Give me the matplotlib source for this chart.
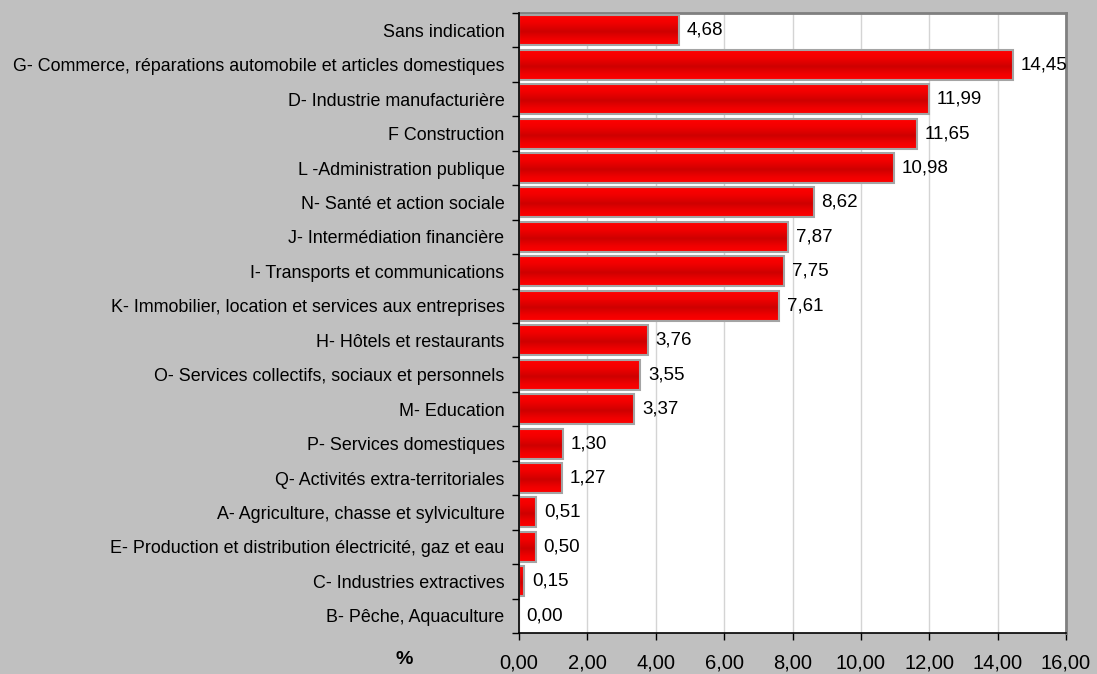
import matplotlib
matplotlib.use("Agg")
import matplotlib.pyplot as plt
import numpy as np
from matplotlib.colors import LinearSegmentedColormap

plt.rcParams['font.family'] = ['Liberation Sans', 'DejaVu Sans']

categories = [
    "Sans indication",
    "G- Commerce, réparations automobile et articles domestiques",
    "D- Industrie manufacturière",
    "F Construction",
    "L -Administration publique",
    "N- Santé et action sociale",
    "J- Intermédiation financière",
    "I- Transports et communications",
    "K- Immobilier, location et services aux entreprises",
    "H- Hôtels et restaurants",
    "O- Services collectifs, sociaux et personnels",
    "M- Education",
    "P- Services domestiques",
    "Q- Activités extra-territoriales",
    "A- Agriculture, chasse et sylviculture",
    "E- Production et distribution électricité, gaz et eau",
    "C- Industries extractives",
    "B- Pêche, Aquaculture",
]
values = [4.68, 14.45, 11.99, 11.65, 10.98, 8.62, 7.87, 7.75, 7.61,
          3.76, 3.55, 3.37, 1.30, 1.27, 0.51, 0.50, 0.15, 0.00]
xticks = [0, 2, 4, 6, 8, 10, 12, 14, 16]

BG = '#C0C0C0'
fig = plt.figure(figsize=(10.97, 6.74), dpi=100, facecolor=BG)
ax = fig.add_axes([519/1097, 1-633/674, (1066-519)/1097, (633-13)/674])
ax.set_facecolor('white')

ypos = np.arange(len(categories))
h = 0.87
cmap = LinearSegmentedColormap.from_list('redgrad', [(0, '#FF0000'), (0.25, '#F20000'),
                                                     (0.55, '#CE0000'), (0.8, '#F00000'), (1, '#FF0000')])
grad = np.linspace(0, 1, 64).reshape(-1, 1)

for y, v in zip(ypos, values):
    if v > 0:
        ax.imshow(grad, extent=[0, v, y + h/2, y - h/2], aspect='auto', cmap=cmap,
                  origin='upper', zorder=2, interpolation='bilinear')
bars = ax.barh(ypos, values, height=h, color='none', edgecolor='#A4A4A4', linewidth=1.5, zorder=3)
for b, v in zip(bars, values):
    if v == 0:
        b.set_visible(False)

for y, v in zip(ypos, values):
    ax.annotate(f"{v:.2f}".replace('.', ','), xy=(v, y), xytext=(5.5, 0), textcoords='offset points',
                ha='left', va='center', fontsize=13.5, color='black', zorder=5, annotation_clip=False)

ax.set_xlim(0, 16)
ax.set_ylim(len(categories) - 0.5, -0.5)
ax.set_xticks(xticks)
ax.set_xticklabels([f"{t:.2f}".replace('.', ',') for t in xticks], fontsize=14.5)
ax.tick_params(axis='x', length=5, width=1, pad=9.5, direction='out', color='black')
ax.set_yticks(ypos)
ax.set_yticklabels(categories, fontsize=12.9)
ax.tick_params(axis='y', which='major', length=0, pad=10.5)
ax.set_yticks(np.arange(len(categories) + 1) - 0.5, minor=True)
ax.tick_params(axis='y', which='minor', length=5, width=1, color='black', direction='out')

ax.grid(axis='x', color='#D4D4D4', linewidth=1, zorder=0)
ax.set_axisbelow(True)

for s in ['top', 'right']:
    ax.spines[s].set_color('#808080')
    ax.spines[s].set_linewidth(2)
for s in ['left', 'bottom']:
    ax.spines[s].set_color('black')
    ax.spines[s].set_linewidth(1.2)
    ax.spines[s].set_zorder(6)

fig.text(404/1097, 1-660/674, '%', fontsize=14, fontweight='bold', ha='center', va='center')

fig.savefig('out.png', dpi=100, facecolor=BG)
